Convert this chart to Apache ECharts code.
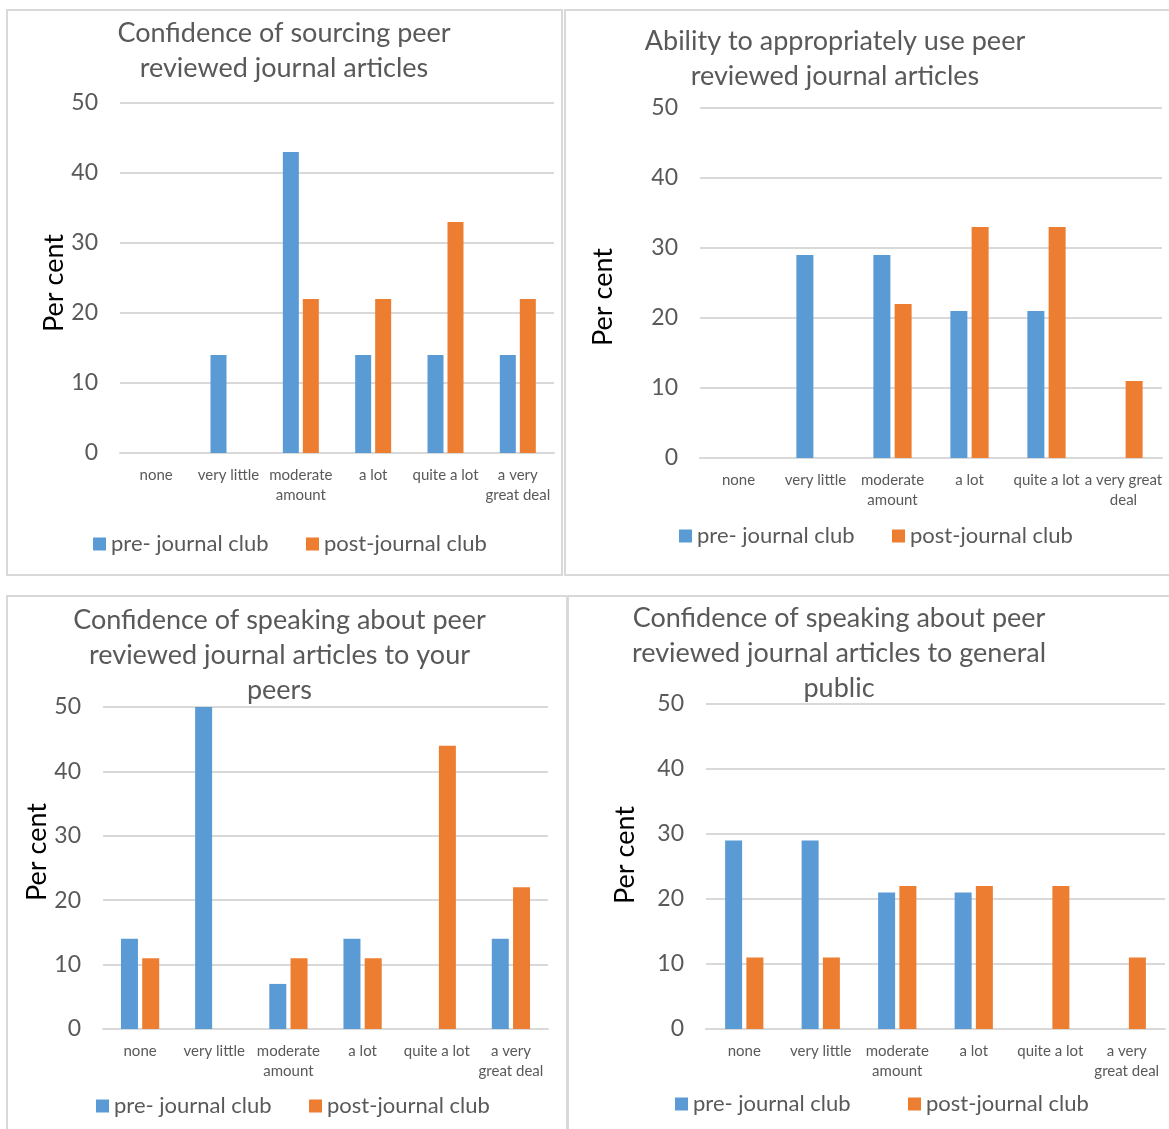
<!DOCTYPE html>
<html><head><meta charset="utf-8">
<script src="https://cdn.jsdelivr.net/npm/echarts@6/dist/echarts.min.js"></script>
<style>html,body{margin:0;padding:0;background:#fff}#c{width:1169px;height:1129px}</style>
</head><body><div id="c"></div>
<script>
// ---------- data ----------
const categories = ['none', 'very little', 'moderate amount', 'a lot', 'quite a lot', 'a very great deal'];
const seriesNames = ['pre- journal club', 'post-journal club'];
const yTickMin = 0, yTickMax = 50, yTickStep = 10;
const yAxisTitle = 'Per cent';

const titles = [
  'Confidence of sourcing peer\nreviewed journal articles',
  'Ability to appropriately use peer\nreviewed journal articles',
  'Confidence of speaking about peer\nreviewed journal articles to your\npeers',
  'Confidence of speaking about peer\nreviewed journal articles to general\npublic'
];

const sourcingPre  = [0, 14, 43, 14, 14, 14];
const sourcingPost = [0, 0, 22, 22, 33, 22];
const usePre       = [0, 29, 29, 21, 21, 0];
const usePost      = [0, 0, 22, 33, 33, 11];
const peersPre     = [14, 50, 7, 14, 0, 14];
const peersPost    = [11, 0, 11, 11, 44, 22];
const publicPre    = [29, 29, 21, 21, 0, 0];
const publicPost   = [11, 11, 22, 22, 22, 11];

const panelData = [[sourcingPre, sourcingPost], [usePre, usePost], [peersPre, peersPost], [publicPre, publicPost]];

// label wrapping used by the category axis
const wrapNarrow = {'moderate amount': 'moderate\namount', 'a very great deal': 'a very\ngreat deal'};
const wrapWide   = {'moderate amount': 'moderate\namount', 'a very great deal': 'a very great\ndeal'};

// ---------- layout / style ----------
const FONT = 'Lato';
const GREY = '#595959';
const LINE = '#d9d9d9';
const colors = ['#5B9BD5', '#ED7D31'];

const layout = [
  {grid:{left:120, top:103, width:434, height:350}, tx:284,   ty:15.5,  nameGap:51, namePad:[0,10,0,0], lg:[93,306],  ly:545,  wrap:wrapNarrow, bw:16},
  {grid:{left:700, top:108, width:462, height:350}, tx:835,   ty:23.5,  nameGap:83, namePad:[0,28,0,0], lg:[679,892], ly:537,  wrap:wrapWide,   bw:17},
  {grid:{left:103, top:707, width:445, height:322}, tx:279.5, ty:602.5, nameGap:50, namePad:[0,0,0,32], lg:[96,309],  ly:1107, wrap:wrapNarrow, bw:17},
  {grid:{left:706, top:704, width:459, height:325}, tx:839,   ty:600.5, nameGap:67, namePad:[0,0,0,23], lg:[675,908], ly:1105, wrap:wrapNarrow, bw:17}
];

const option = {
  backgroundColor: '#fff',
  animation: false,
  textStyle: {fontFamily: FONT},
  title: [], grid: [], xAxis: [], yAxis: [], series: [], legend: [],
  graphic: [
    {type:'rect', shape:{x:7, y:10, width:555, height:565}, style:{fill:'none', stroke:LINE, lineWidth:2}, silent:true},
    {type:'rect', shape:{x:565, y:10, width:620, height:565}, style:{fill:'none', stroke:LINE, lineWidth:2}, silent:true},
    {type:'rect', shape:{x:7, y:596, width:560, height:560}, style:{fill:'none', stroke:LINE, lineWidth:2}, silent:true},
    {type:'rect', shape:{x:568, y:596, width:620, height:560}, style:{fill:'none', stroke:LINE, lineWidth:2}, silent:true}
  ]
};

layout.forEach((L, i) => {
  option.title.push({
    text: titles[i], left: L.tx, top: L.ty, textAlign: 'center', padding: 0,
    textStyle: {fontFamily: FONT, fontSize: 27, fontWeight: 'normal', color: GREY, lineHeight: 35}
  });
  option.grid.push(Object.assign({containLabel: false}, L.grid));
  option.xAxis.push({
    type: 'category', gridIndex: i, data: categories,
    axisLine: {lineStyle: {color: LINE, width: 2}},
    axisTick: {show: false},
    axisLabel: {interval: 0, color: GREY, fontFamily: FONT, fontSize: 15, lineHeight: 20, margin: 12,
      formatter: v => L.wrap[v] || v}
  });
  option.yAxis.push({
    type: 'value', gridIndex: i, min: yTickMin, max: yTickMax, interval: yTickStep,
    name: yAxisTitle, nameLocation: 'middle', nameRotate: 90, nameGap: L.nameGap,
    nameTextStyle: {fontFamily: FONT, fontSize: 27, color: '#000', padding: L.namePad},
    axisLine: {show: false}, axisTick: {show: false},
    axisLabel: {color: GREY, fontFamily: FONT, fontSize: 23, margin: 22},
    splitLine: {lineStyle: {color: LINE, width: 2}}
  });
  seriesNames.forEach((nm, k) => {
    option.series.push({
      type: 'bar', name: nm, xAxisIndex: i, yAxisIndex: i, data: panelData[i][k],
      barWidth: L.bw, barGap: '25%', itemStyle: {color: colors[k]}
    });
    option.legend.push({
      data: [nm], left: L.lg[k], top: L.ly - 12, padding: 0,
      icon: 'rect', itemWidth: 13, itemHeight: 13, itemGap: 0,
      textStyle: {fontFamily: FONT, fontSize: 22, color: GREY}
    });
  });
});

const chart = echarts.init(document.getElementById('c'), null, {renderer: 'canvas'});
chart.setOption(option);
</script>
</body></html>
